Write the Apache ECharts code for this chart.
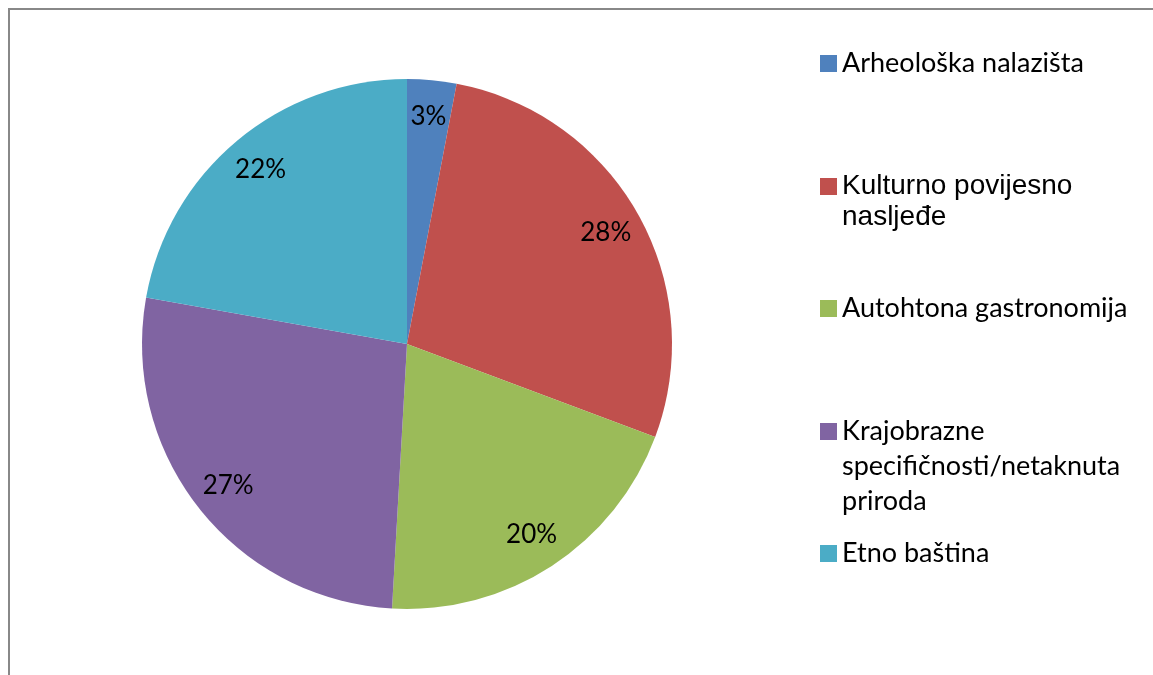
<!DOCTYPE html>
<html>
<head>
<meta charset="utf-8">
<script src="https://cdn.jsdelivr.net/npm/echarts@6/dist/echarts.min.js"></script>
<style>
  html, body { margin: 0; padding: 0; background: #fff; }
  #frame { position: absolute; left: 8px; top: 8px; width: 1200px; height: 700px; border-left: 2px solid #888; border-top: 2px solid #888; }
  #main { position: absolute; left: 0; top: 0; width: 1153px; height: 675px; }
</style>
</head>
<body>
<div id="frame"></div>
<div id="main"></div>
<script>
// kategorije i udjeli (očitano s grafikona)
const categories = ['Arheološka nalazišta', 'Kulturno povijesno nasljeđe', 'Autohtona gastronomija', 'Krajobrazne specifičnosti/netaknuta priroda', 'Etno baština']
const shares = [3.0, 27.7, 20.2, 26.9, 22.2]
const colors = ['#4F81BD', '#C0504D', '#9BBB59', '#8064A2', '#4BACC6']
// prijelomi redaka u legendi
const legendLines = [
  ['Arheološka nalazišta'],
  ['Kulturno povijesno', 'nasljeđe'],
  ['Autohtona gastronomija'],
  ['Krajobrazne', 'specifičnosti/netaknuta', 'priroda'],
  ['Etno baština']
]

const pieData = categories.map((name, i) => ({ name: name, value: shares[i], itemStyle: { color: colors[i] } }))

// svaka stavka legende zasebno; prazni redci na vrhu da ikona stoji uz prvi redak
const legendTops = [46, 140, 291, 344, 536]
const legends = categories.map((name, i) => {
  const arial = i === 1
  const lh = arial ? 31 : 35
  const n = legendLines[i].length
  return {
    data: [name],
    left: 820,
    top: legendTops[i],
    padding: 0,
    itemWidth: 17,
    itemHeight: 17,
    icon: 'rect',
    selectedMode: false,
    formatter: () => '\n'.repeat(n - 1) + legendLines[i].join('\n'),
    textStyle: {
      fontFamily: arial ? 'Liberation Sans' : 'Lato',
      fontSize: arial ? 28 : 27,
      lineHeight: lh,
      color: '#000'
    }
  }
})

let myChart = echarts.init(document.getElementById('main'))
myChart.setOption({
  animation: false,
  textStyle: { fontFamily: 'Lato' },
  legend: legends,
  series: [
    {
      type: 'pie',
      center: [407, 344],
      radius: [0, 265],
      startAngle: 90,
      clockwise: true,
      silent: true,
      label: { show: false },
      labelLine: { show: false },
      data: pieData
    },
    {
      // prozirni prsten samo za postotke (na ~85% polumjera)
      type: 'pie',
      center: [407, 344],
      radius: [185, 265],
      startAngle: 90,
      clockwise: true,
      silent: true,
      legendHoverLink: false,
      itemStyle: { color: 'rgba(0,0,0,0)' },
      label: {
        show: true,
        position: 'inside',
        fontFamily: 'Lato',
        fontSize: 26,
        color: '#000',
        formatter: p => Math.round(p.value) + '%'
      },
      labelLine: { show: false },
      data: categories.map((name, i) => ({ name: name + ' ', value: shares[i] }))
    }
  ]
})
</script>
</body>
</html>
